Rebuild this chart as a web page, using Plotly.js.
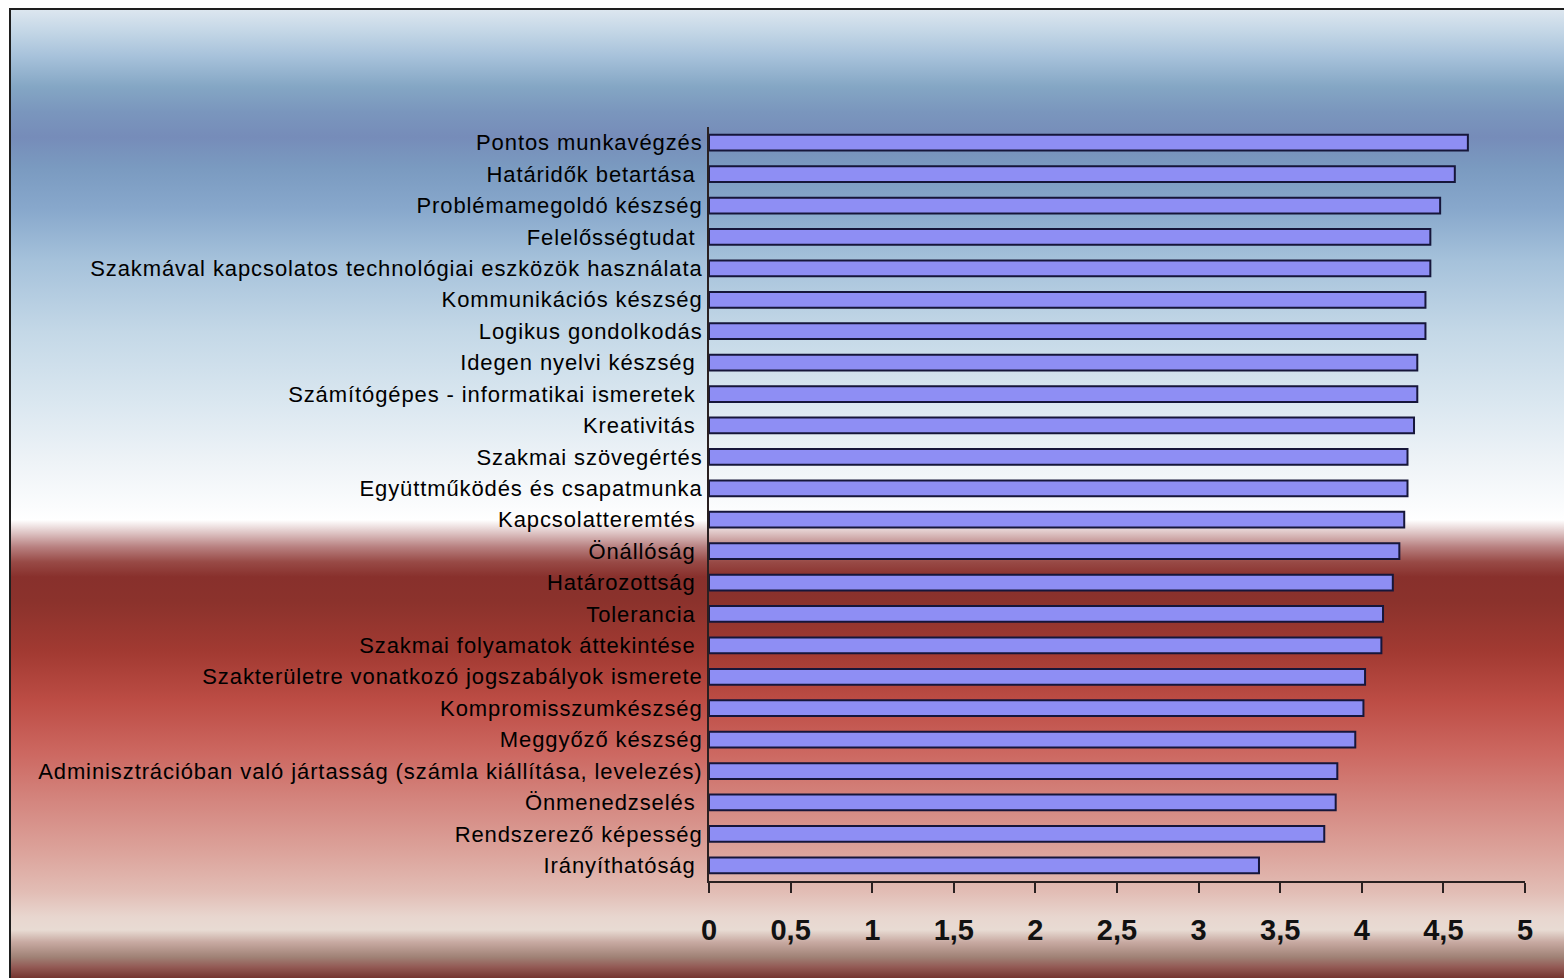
<!DOCTYPE html>
<html>
<head>
<meta charset="utf-8">
<script src="https://cdn.plot.ly/plotly-3.0.1.min.js"></script>
<style>
  html, body { margin: 0; padding: 0; background: #ffffff; }
  #wrap { position: relative; width: 1564px; height: 978px; overflow: hidden; background: #ffffff; }
  #bg {
    position: absolute; left: 9px; top: 8px; width: 1560px; height: 975px;
    border-left: 2px solid #1e1e1e; border-top: 2px solid #1e1e1e;
    background: linear-gradient(to bottom,
      #dce6ef 0px, #c3d6e6 22px, #a6c1da 47px, #84a6c4 77px, #7a96bd 102px,
      #768cb9 127px, #7a9ac0 157px, #88a8cc 200px, #a6c2db 252px, #c4d8e7 322px,
      #dae7f0 392px, #eef3f7 452px, #fbfcfd 497px, #ffffff 510px, #e0c8c8 522px,
      #b88080 537px, #984a46 552px, #88302c 567px, #8b322c 592px, #a23a32 642px,
      #bd4d45 692px, #cc6760 742px, #d4867f 792px, #dca39b 842px, #e2bdb5 882px,
      #e8d6cf 907px, #e8dbd3 920px, #c8aaa2 932px, #a08276 947px, #935a55 957px,
      #6e2e28 970px);
  }
  #chart { position: absolute; left: 0; top: 0; width: 1564px; height: 978px; }
  #chart .ytick text { letter-spacing: 0.9px; }
</style>
</head>
<body>
<div id="wrap">
  <div id="bg"></div>
  <div id="chart"></div>
</div>
<script>
const categories = [
  "Pontos munkavégzés",
  "Határidők betartása\u00a0",
  "Problémamegoldó készség",
  "Felelősségtudat\u00a0",
  "Szakmával kapcsolatos technológiai eszközök használata",
  "Kommunikációs készség",
  "Logikus gondolkodás",
  "Idegen nyelvi készség\u00a0",
  "Számítógépes - informatikai ismeretek\u00a0",
  "Kreativitás\u00a0",
  "Szakmai szövegértés",
  "Együttműködés és csapatmunka",
  "Kapcsolatteremtés\u00a0",
  "Önállóság\u00a0",
  "Határozottság\u00a0",
  "Tolerancia\u00a0",
  "Szakmai folyamatok áttekintése\u00a0",
  "Szakterületre vonatkozó jogszabályok ismerete",
  "Kompromisszumkészség",
  "Meggyőző készség",
  "Adminisztrációban való jártasság (számla kiállítása, levelezés)",
  "Önmenedzselés\u00a0",
  "Rendszerező képesség",
  "Irányíthatóság\u00a0"
];
const values = [
  4.65, 4.57, 4.48, 4.42, 4.42, 4.39, 4.39, 4.34, 4.34, 4.32, 4.28, 4.28,
  4.26, 4.23, 4.19, 4.13, 4.12, 4.02, 4.01, 3.96, 3.85, 3.84, 3.77, 3.37
];
const xTickValues = [0, 0.5, 1, 1.5, 2, 2.5, 3, 3.5, 4, 4.5, 5];

const trace = {
  type: 'bar',
  orientation: 'h',
  x: values,
  y: categories,
  marker: { color: '#8e8ef4', line: { color: '#16163a', width: 2 } },
  hoverinfo: 'skip'
};

const layout = {
  width: 1564, height: 978,
  paper_bgcolor: 'rgba(0,0,0,0)',
  plot_bgcolor: 'rgba(0,0,0,0)',
  margin: { l: 709, r: 39, t: 127, b: 97, pad: 0 },
  separators: ', ',
  bargap: 0.5,
  showlegend: false,
  xaxis: {
    range: [0, 5],
    tickvals: xTickValues,
    showgrid: false, zeroline: false,
    showline: true, linecolor: '#2a2020', linewidth: 2,
    ticks: 'outside', ticklen: 10, tickwidth: 2, tickcolor: '#2a2020',
    ticklabelstandoff: 12,
    tickfont: { family: 'Liberation Sans, Arial, sans-serif', size: 29, color: '#111111', weight: 'bold' }
  },
  yaxis: {
    type: 'category',
    categoryorder: 'array',
    categoryarray: categories,
    autorange: 'reversed',
    showgrid: false, zeroline: false,
    showline: true, linecolor: '#2a2020', linewidth: 2,
    ticks: '',
    ticklabelstandoff: 0,
    tickfont: { family: 'Liberation Sans, Arial, sans-serif', size: 22, color: '#000000' }
  }
};

Plotly.newPlot('chart', [trace], layout, { displayModeBar: false, staticPlot: true });
</script>
</body>
</html>
